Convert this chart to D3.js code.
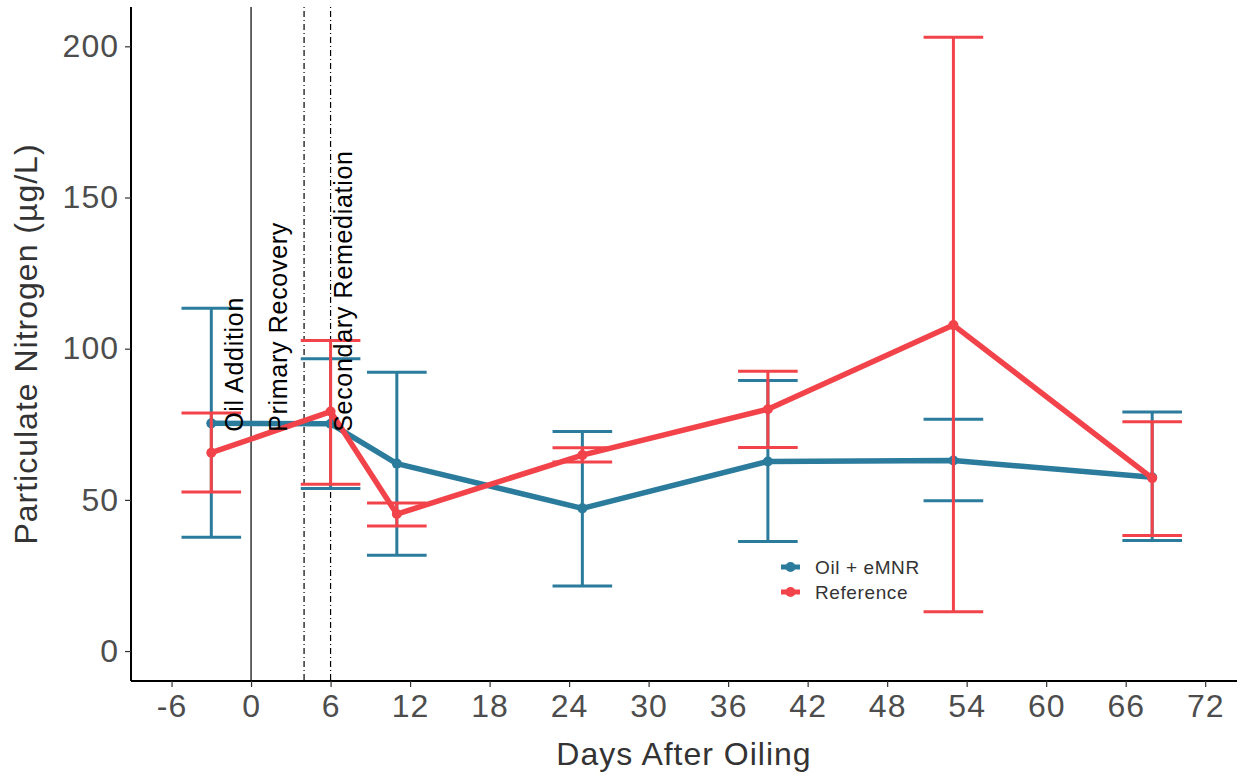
<!DOCTYPE html>
<html>
<head>
<meta charset="utf-8">
<script src="https://cdn.jsdelivr.net/npm/d3@7"></script>
<style>
  body { margin: 0; background: #fff; }
  svg { font-family: "Liberation Sans", Arial, sans-serif; }
</style>
</head>
<body>
<div id="chart"></div>
<script>
// days after oiling
var days = [-3, 6, 11, 25, 39, 53, 68];

// Oil + eMNR
var oil_mean = [75.3, 75.2, 62, 47.2, 62.7, 63, 57.5];
var oil_low  = [37.6, 53.8, 31.7, 21.5, 36.2, 49.7, 36.6];
var oil_high = [113.4, 96.7, 92.2, 72.6, 89.5, 76.7, 79.1];

// Reference
var ref_mean = [65.6, 79.2, 45.3, 64.8, 80, 107.8, 57.2];
var ref_low  = [52.6, 55.2, 41.4, 62.5, 67.3, 13, 38.2];
var ref_high = [78.7, 102.7, 49, 67.2, 92.5, 203, 75.8];

var series_names = ['Oil + eMNR', 'Reference'];
var series_colors = ['#2b7b9c', '#f2434a'];

var x_ticks = [-6, 0, 6, 12, 18, 24, 30, 36, 42, 48, 54, 60, 66, 72];
var y_ticks = [0, 50, 100, 150, 200];

// event lines
var event_days = [0, 4, 6];
var event_styles = ['solid', 'dotdash', 'dotdash'];
var event_labels = ['Oil Addition', 'Primary Recovery', 'Secondary Remediation'];
var label_days = [-0.6, 2.7, 7.6];

var width = 1244;
var height = 776;
var m_left = 131, m_right = 1237, m_top = 7, m_bottom = 681;

var svg = d3.select('#chart')
    .append('svg')
    .attr('width', width)
    .attr('height', height);

var x_scale = d3.scaleLinear()
    .domain([-9.06, 74.4])
    .range([m_left, m_right]);

var y_scale = d3.scaleLinear()
    .domain([-9.9, 213])
    .range([m_bottom, m_top]);

// axes
var x_axis = d3.axisBottom(x_scale)
    .tickValues(x_ticks)
    .tickFormat(function(d) { return String(d); })
    .tickSize(6)
    .tickPadding(7);

var y_axis = d3.axisLeft(y_scale)
    .tickValues(y_ticks)
    .tickFormat(function(d) { return String(d); })
    .tickSize(6)
    .tickPadding(6);

var gx = svg.append('g')
    .attr('transform', 'translate(0,' + m_bottom + ')')
    .call(x_axis);
var gy = svg.append('g')
    .attr('transform', 'translate(' + m_left + ',0)')
    .call(y_axis);

[gx, gy].forEach(function(g) {
    g.select('.domain').attr('stroke', '#000').attr('stroke-width', 2);
    g.selectAll('.tick line').attr('stroke', '#333').attr('stroke-width', 1.2);
    g.selectAll('.tick text')
        .attr('fill', '#4d4d4d')
        .style('font-size', '32px')
        .style('letter-spacing', '1px');
});
gx.select('.domain').attr('d', 'M' + m_left + ',0H' + m_right);
gy.select('.domain').attr('d', 'M0,' + m_bottom + 'V' + m_top);

// axis titles
svg.append('text')
    .attr('x', (m_left + m_right) / 2)
    .attr('y', 765)
    .attr('text-anchor', 'middle')
    .attr('fill', '#333')
    .style('font-size', '32px')
    .style('letter-spacing', '1px')
    .text('Days After Oiling');

svg.append('text')
    .attr('transform', 'translate(37,' + ((m_top + m_bottom) / 2) + ') rotate(-90)')
    .attr('text-anchor', 'middle')
    .attr('fill', '#333')
    .style('font-size', '32px')
    .style('letter-spacing', '1px')
    .text('Particulate Nitrogen (\u00b5g/L)');

// event lines
event_days.forEach(function(d, i) {
    svg.append('line')
        .attr('x1', x_scale(d))
        .attr('x2', x_scale(d))
        .attr('y1', m_top)
        .attr('y2', m_bottom)
        .attr('stroke', '#000')
        .attr('stroke-width', 1.2)
        .attr('stroke-dasharray', event_styles[i] == 'solid' ? null : '1,3,6,3');
});

// series
var groups = [
    {mean: oil_mean, low: oil_low, high: oil_high},
    {mean: ref_mean, low: ref_low, high: ref_high}
];

var line = d3.line()
    .x(function(d) { return x_scale(d.day); })
    .y(function(d) { return y_scale(d.mean); });

var cap = 2.25;

groups.forEach(function(g, k) {
    var pts = days.map(function(d, i) {
        return {day: d, mean: g.mean[i], low: g.low[i], high: g.high[i]};
    });
    var col = series_colors[k];
    var eb = svg.append('g');
    eb.selectAll('.v')
        .data(pts).enter().append('line')
        .attr('x1', function(d) { return x_scale(d.day); })
        .attr('x2', function(d) { return x_scale(d.day); })
        .attr('y1', function(d) { return y_scale(d.low); })
        .attr('y2', function(d) { return y_scale(d.high); })
        .attr('stroke', col).attr('stroke-width', 3);
    ['low', 'high'].forEach(function(key) {
        eb.selectAll('.c' + key)
            .data(pts).enter().append('line')
            .attr('x1', function(d) { return x_scale(d.day - cap); })
            .attr('x2', function(d) { return x_scale(d.day + cap); })
            .attr('y1', function(d) { return y_scale(d[key]); })
            .attr('y2', function(d) { return y_scale(d[key]); })
            .attr('stroke', col).attr('stroke-width', 3);
    });
    svg.append('path')
        .datum(pts)
        .attr('d', line)
        .attr('fill', 'none')
        .attr('stroke', col)
        .attr('stroke-width', 5.5)
        .attr('stroke-linejoin', 'round');
    svg.selectAll('.p' + k)
        .data(pts).enter().append('circle')
        .attr('cx', function(d) { return x_scale(d.day); })
        .attr('cy', function(d) { return y_scale(d.mean); })
        .attr('r', 5)
        .attr('fill', col);
});

// event labels
event_labels.forEach(function(t, i) {
    svg.append('text')
        .attr('transform', 'translate(' + x_scale(label_days[i]) + ',' + y_scale(72.5) + ') rotate(-90)')
        .attr('fill', '#000')
        .style('font-size', '25px')
        .style('letter-spacing', '0.7px')
        .text(t);
});

// legend
var legend = svg.append('g').attr('transform', 'translate(780,567)');
series_names.forEach(function(n, i) {
    var row = legend.append('g').attr('transform', 'translate(0,' + (i * 25) + ')');
    row.append('line')
        .attr('x1', 1).attr('x2', 20)
        .attr('stroke', series_colors[i]).attr('stroke-width', 5);
    row.append('circle')
        .attr('cx', 10.5).attr('r', 5)
        .attr('fill', series_colors[i]);
    row.append('text')
        .attr('x', 35).attr('y', 6.5)
        .attr('fill', '#333')
        .style('font-size', '19px')
        .style('letter-spacing', '0.6px')
        .text(n);
});
</script>
</body>
</html>
